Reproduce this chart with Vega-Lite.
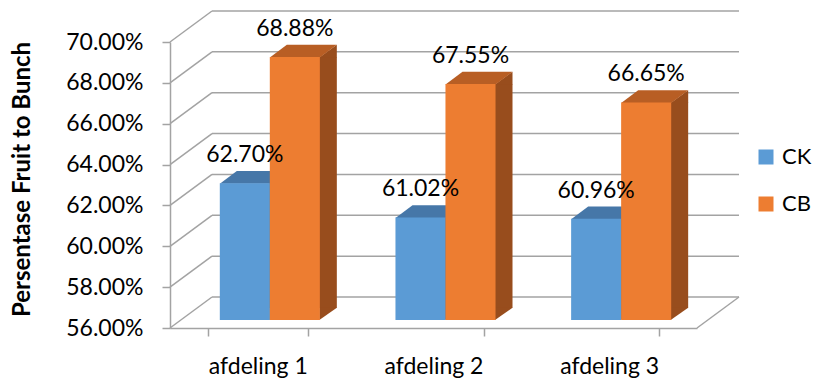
{
  "$schema": "https://vega.github.io/schema/vega-lite/v6.json",
  "width": 527,
  "height": 286,
  "autosize": "none",
  "padding": {"left": 170, "top": 42, "right": 116, "bottom": 53},
  "background": "white",
  "config": {"font": "Lato", "view": {"stroke": null}},
  "datasets": {
    "bars": [
      {"afdeling": "afdeling 1", "series": "CK", "value": 0.6270},
      {"afdeling": "afdeling 1", "series": "CB", "value": 0.6888},
      {"afdeling": "afdeling 2", "series": "CK", "value": 0.6102},
      {"afdeling": "afdeling 2", "series": "CB", "value": 0.6755},
      {"afdeling": "afdeling 3", "series": "CK", "value": 0.6096},
      {"afdeling": "afdeling 3", "series": "CB", "value": 0.6665}
    ],
    "grid": [
      {"value": 0.56}, {"value": 0.58}, {"value": 0.60}, {"value": 0.62},
      {"value": 0.64}, {"value": 0.66}, {"value": 0.68}, {"value": 0.70}
    ]
  },
  "encoding": {
    "y": {
      "field": "value", "type": "quantitative",
      "scale": {"domain": [0.56, 0.70], "nice": false, "zero": false},
      "axis": {
        "values": [0.56, 0.58, 0.60, 0.62, 0.64, 0.66, 0.68, 0.70],
        "format": ".2%", "grid": false,
        "labelFontSize": 23, "labelColor": "#000000", "labelPadding": 19,
        "domainColor": "#a3a3a3", "domainWidth": 1.5,
        "tickColor": "#a3a3a3", "tickWidth": 1.5, "tickSize": 8,
        "title": "Persentase Fruit to Bunch", "titleFontSize": 24, "titleFontWeight": "bold",
        "titleColor": "#000000", "titleX": -148, "titleY": 137, "titleBaseline": "middle", "titleAlign": "center", "titleAngle": -90
      }
    }
  },
  "layer": [
    {
      "data": {"name": "grid"},
      "mark": {"type": "rule", "stroke": "#a3a3a3", "strokeWidth": 1.5, "xOffset": 42, "x2Offset": 42, "yOffset": -31, "y2Offset": -31},
      "encoding": {
        "x": {"value": 0},
        "x2": {"value": "width"}
      }
    },
    {
      "data": {"name": "grid"},
      "mark": {"type": "rule", "stroke": "#a3a3a3", "strokeWidth": 1.5, "x2Offset": 42, "y2Offset": -31},
      "encoding": {
        "x": {"value": 0},
        "x2": {"value": 0},
        "y2": {"field": "value"}
      }
    },
    {
      "data": {"values": [{"value": 0.56}]},
      "mark": {"type": "rule", "stroke": "#a3a3a3", "strokeWidth": 1.5, "x2Offset": 42, "y2Offset": -31},
      "encoding": {
        "x": {"value": "width"},
        "x2": {"value": "width"},
        "y2": {"field": "value"}
      }
    },
    {
      "data": {"name": "bars"},
      "transform": [{"filter": "datum.series === 'CK'"}],
      "encoding": {
        "x": {
          "field": "afdeling", "type": "nominal",
          "scale": {"paddingInner": 0.43, "paddingOuter": 0.215},
          "axis": {
            "title": null, "labelAngle": 0, "tickBand": "extent",
            "labelFontSize": 23, "labelColor": "#000000", "labelPadding": 19,
            "domainColor": "#a3a3a3", "domainWidth": 1.5,
            "tickColor": "#a3a3a3", "tickWidth": 1.5, "tickSize": 8
          }
        }
      },
      "layer": [
        {
          "mark": {"type": "bar", "width": 18, "xOffset": 20, "yOffset": -8, "y2Offset": -20, "color": "#3f6f9e"},
          "encoding": {"y2": {"datum": 0.56}}
        },
        {
          "mark": {"type": "point", "filled": true, "opacity": 1, "strokeWidth": 0, "size": 10000, "shape": "M 0.49 0.01 L 0.84 -0.245 L 0.84 0.01 Z", "xOffset": -13, "yOffset": -8, "color": "#3f6f9e"}
        },
        {
          "mark": {"type": "point", "filled": true, "opacity": 1, "strokeWidth": 0, "size": 10000, "shape": "M 0.49 -0.245 L 0.49 0 L 0.84 -0.245 Z", "xOffset": -13, "yOffset": -8, "color": "#3f6f9e"},
          "encoding": {"y": {"value": "height"}}
        },
        {
          "mark": {"type": "point", "filled": true, "opacity": 1, "strokeWidth": 0, "size": 10000, "shape": "M -0.5 0.01 L 0.5 0.01 L 0.84 -0.245 L -0.16 -0.245 Z", "xOffset": -13, "yOffset": -8, "color": "#4677a8"}
        },
        {
          "mark": {"type": "bar", "width": {"band": 0.5}, "xOffset": -13, "yOffset": -8, "y2Offset": -8},
          "encoding": {
            "y2": {"datum": 0.56},
            "color": {
              "field": "series", "type": "nominal",
              "scale": {"domain": ["CK", "CB"], "range": ["#5b9bd5", "#ed7d31"]},
              "legend": {
                "orient": "none", "legendX": 585, "legendY": 104, "title": null,
                "symbolType": "square", "symbolSize": 225, "symbolStrokeWidth": 0,
                "labelFontSize": 22, "labelColor": "#000000", "labelOffset": 5, "rowPadding": 25
              }
            }
          }
        }
      ]
    },
    {
      "data": {"name": "bars"},
      "transform": [{"filter": "datum.series === 'CB'"}],
      "encoding": {
        "x": {
          "field": "afdeling", "type": "nominal",
          "scale": {"paddingInner": 0.43, "paddingOuter": 0.215},
          "axis": {
            "title": null, "labelAngle": 0, "tickBand": "extent",
            "labelFontSize": 23, "labelColor": "#000000", "labelPadding": 19,
            "domainColor": "#a3a3a3", "domainWidth": 1.5,
            "tickColor": "#a3a3a3", "tickWidth": 1.5, "tickSize": 8
          }
        }
      },
      "layer": [
        {
          "mark": {"type": "bar", "width": 18, "xOffset": 70, "yOffset": -8, "y2Offset": -20, "color": "#984d1d"},
          "encoding": {"y2": {"datum": 0.56}}
        },
        {
          "mark": {"type": "point", "filled": true, "opacity": 1, "strokeWidth": 0, "size": 10000, "shape": "M 0.49 0.01 L 0.84 -0.245 L 0.84 0.01 Z", "xOffset": 37, "yOffset": -8, "color": "#984d1d"}
        },
        {
          "mark": {"type": "point", "filled": true, "opacity": 1, "strokeWidth": 0, "size": 10000, "shape": "M 0.49 -0.245 L 0.49 0 L 0.84 -0.245 Z", "xOffset": 37, "yOffset": -8, "color": "#984d1d"},
          "encoding": {"y": {"value": "height"}}
        },
        {
          "mark": {"type": "point", "filled": true, "opacity": 1, "strokeWidth": 0, "size": 10000, "shape": "M -0.5 0.01 L 0.5 0.01 L 0.84 -0.245 L -0.16 -0.245 Z", "xOffset": 37, "yOffset": -8, "color": "#b85e24"}
        },
        {
          "mark": {"type": "bar", "width": {"band": 0.5}, "xOffset": 37, "yOffset": -8, "y2Offset": -8},
          "encoding": {
            "y2": {"datum": 0.56},
            "color": {
              "field": "series", "type": "nominal",
              "scale": {"domain": ["CK", "CB"], "range": ["#5b9bd5", "#ed7d31"]},
              "legend": {
                "orient": "none", "legendX": 585, "legendY": 104, "title": null,
                "symbolType": "square", "symbolSize": 225, "symbolStrokeWidth": 0,
                "labelFontSize": 22, "labelColor": "#000000", "labelOffset": 5, "rowPadding": 25
              }
            }
          }
        }
      ]
    },
    {
      "data": {"name": "bars"},
      "transform": [{"filter": "datum.series === 'CK'"}],
      "mark": {"type": "text", "fontSize": 23, "color": "#000000", "dx": -13, "dy": -29, "baseline": "alphabetic"},
      "encoding": {
        "x": {"field": "afdeling", "type": "nominal", "scale": {"paddingInner": 0.43, "paddingOuter": 0.215}, "axis": {
            "title": null, "labelAngle": 0, "tickBand": "extent",
            "labelFontSize": 23, "labelColor": "#000000", "labelPadding": 19,
            "domainColor": "#a3a3a3", "domainWidth": 1.5,
            "tickColor": "#a3a3a3", "tickWidth": 1.5, "tickSize": 8
          }},
        "text": {"field": "value", "type": "quantitative", "format": ".2%"}
      }
    },
    {
      "data": {"name": "bars"},
      "transform": [{"filter": "datum.series === 'CB'"}],
      "mark": {"type": "text", "fontSize": 23, "color": "#000000", "dx": 37, "dy": -29, "baseline": "alphabetic"},
      "encoding": {
        "x": {"field": "afdeling", "type": "nominal", "scale": {"paddingInner": 0.43, "paddingOuter": 0.215}, "axis": {
            "title": null, "labelAngle": 0, "tickBand": "extent",
            "labelFontSize": 23, "labelColor": "#000000", "labelPadding": 19,
            "domainColor": "#a3a3a3", "domainWidth": 1.5,
            "tickColor": "#a3a3a3", "tickWidth": 1.5, "tickSize": 8
          }},
        "text": {"field": "value", "type": "quantitative", "format": ".2%"}
      }
    }
  ]
}
